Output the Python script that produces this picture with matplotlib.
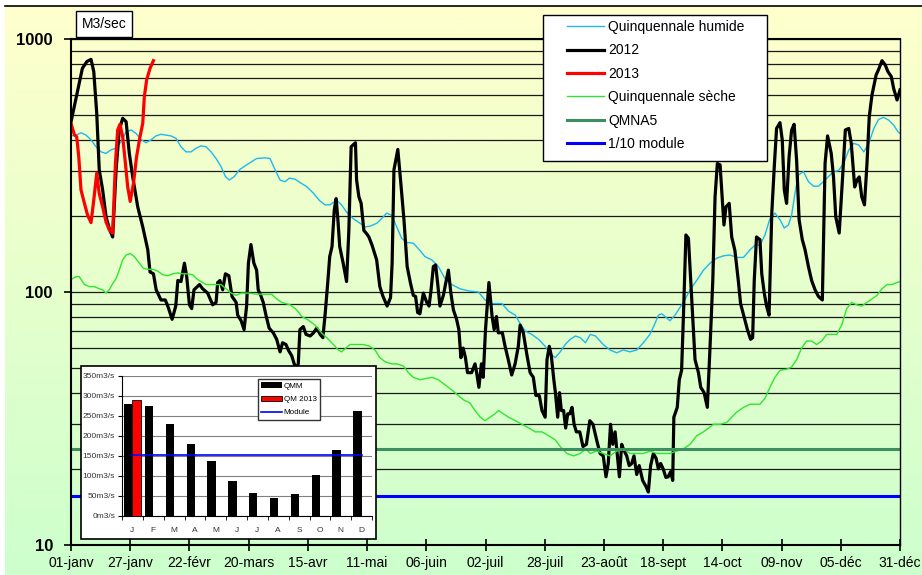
import numpy as np
import matplotlib
matplotlib.use("Agg")
import matplotlib.pyplot as plt
from matplotlib.patches import Rectangle
from matplotlib.lines import Line2D
from matplotlib.colors import LinearSegmentedColormap
from matplotlib.ticker import LogLocator, NullFormatter

plt.rcParams['font.family'] = ['Liberation Sans', 'DejaVu Sans']

# x axis : day of year (0 = 1st january)
tick_days = list(range(0, 365, 26))
tick_labels = ['01-janv', '27-janv', '22-févr', '20-mars', '15-avr', '11-mai', '06-juin',
               '02-juil', '28-juil', '23-août', '18-sept', '14-oct', '09-nov', '05-déc', '31-déc']

# daily flows 2012 (m3/s), read at the turning points
days_2012 = [0, 3, 5, 7, 8.8, 10, 11.3, 12.4, 13.9, 15.4, 17, 18.3, 19.8, 21.2, 22.7, 24.2,
             25.6, 27.1, 29.3, 31.5, 33.7, 34.7, 36.2, 37.4, 39.5, 41.4, 42.5, 44.4, 46, 46.9,
             48.3, 49.8, 50.8, 52, 53, 54, 56.4, 57.8, 60, 62.2, 63.7, 64.4, 65.4, 66.6, 67.8,
             69.3, 70.7, 72.5, 73.2, 74.7, 76, 77.1, 77.9, 79, 80.3, 81.5, 82.2, 83.3, 84.4,
             85.6, 87, 88.8, 90.3, 91.8, 92.9, 94.4, 95.4, 96.9, 98, 99, 99.8, 100.5, 102,
             103.2, 105, 106.5, 107.9, 109.4, 110.6, 111.6, 112.7, 113.6, 114.6, 115.6, 116.4,
             117.1, 118, 119.5, 121, 122, 123, 124.9, 125.4, 126.4, 127.4, 128.6, 129.8, 130.8,
             132.2, 134.2, 135.6, 137, 138.8, 140.3, 141, 141.8, 143.5, 144.7, 146.2, 147.6,
             149.1, 150.3, 151.3, 152.2, 153.2, 154.7, 156.2, 157.2, 158, 159.1, 160.1, 161,
             162, 163.5, 164.5, 165.7, 166.8, 167.9, 169.3, 170.3, 171.2, 172.2, 173.2, 174.1,
             175.9, 177.4, 178.1, 179.1, 180.2, 181, 182, 183.5, 184.9, 185.8, 186.8, 187.6,
             189.4, 190.6, 192, 193.5, 195, 196.4, 197.2, 198.6, 200.1, 201.6, 203, 204.1,
             205.6, 206.8, 208.2, 209, 210, 210.9, 212, 212.7, 213.7, 214.5, 215.3, 216.3,
             217.2, 218.1, 219, 220, 220.9, 221.9, 223.4, 224.8, 226.3, 227.8, 229.2, 230.8,
             232.3, 233.7, 234.9, 235.9, 236.9, 237.9, 238.9, 239.9, 240.8, 241.8, 242.5, 244,
             245.1, 246.2, 247.2, 248.4, 249.5, 251, 252.5, 253.5, 254.5, 255.7, 256.9, 257.9,
             258.9, 260, 261.2, 262.2, 263.3, 264.2, 264.7, 266.2, 267.1, 268.1, 268.9, 270,
             271.1, 272.5, 274, 275.5, 276.5, 278, 279.4, 280.6, 281.8, 282.8, 283.8, 285,
             285.7, 286.7, 287.6, 289, 290.1, 291.5, 293, 294, 295.5, 297, 298.4, 299.3, 300,
             301, 302.5, 303.3, 304.4, 305.4, 306.5, 307.7, 308.8, 309.8, 311.3, 312.3, 313.2,
             314.2, 315.3, 316.4, 317.5, 318.6, 319.7, 321.1, 322.3, 323.8, 325.2, 326.7, 328.2,
             329.9, 331.1, 332.2, 333.8, 334.8, 335.8, 337.3, 338.8, 340, 341.5, 342.6, 344.1,
             345.1, 346.1, 347.2, 348.4, 349.5, 350.5, 351.7, 353.5, 354.6, 356.1, 357.5, 358.7,
             360.2, 361.2, 362.7, 364]
flow_2012 = [470, 630, 766, 815, 831, 743, 508, 304, 253, 198, 176, 165, 304, 437, 486, 471,
             353, 285, 217, 181, 147, 120, 118, 102, 93, 93, 88, 78, 88, 111,
             110, 130, 115, 89, 86, 102, 107, 103, 99, 89, 91, 109, 111, 102, 118,
             116, 96, 91, 81, 77, 71, 88, 130, 154, 130, 122, 102, 97, 91,
             81, 72, 69, 65, 58, 63, 62, 59, 56, 52, 50, 52, 71, 73,
             68, 67, 69, 72, 68, 66, 82, 108, 138, 151, 211, 234,
             198, 151, 130, 110, 175, 375, 389, 277, 238, 224, 175, 170, 165,
             153, 134, 105, 96, 88, 95, 130, 304, 366, 277, 193, 126,
             108, 97, 96, 83, 82, 99, 91, 88, 100, 126, 128, 108,
             88, 97, 108, 122, 99, 85, 78, 71, 55, 60, 55, 48,
             48, 52, 48, 42, 52, 46, 71, 109, 80, 71, 80, 69,
             69, 61, 54, 47, 52, 61, 74, 69, 57, 48, 46, 39,
             39, 34, 32, 54, 61, 56, 45, 40, 32, 40, 34, 34,
             29, 33, 33, 35, 30, 28, 28, 24.5, 25, 31, 30, 26,
             23, 22.5, 18.6, 21, 30, 25, 28, 22.5, 18.6, 25, 24, 22.5,
             20.6, 21, 22.5, 19, 20.6, 18, 17, 16.2, 20.6, 23, 22, 20,
             21, 20, 18.5, 18.6, 19.5, 18, 32, 35, 45, 49, 80, 168,
             163, 96, 54, 48, 42, 40, 35, 61, 111, 238, 322, 318,
             253, 184, 217, 224, 165, 146, 111, 90, 80, 71, 65, 66, 111,
             165, 161, 118, 99, 88, 81, 205, 313, 443, 467, 399, 253,
             224, 342, 436, 460, 332, 193, 161, 147, 126, 111, 102, 96,
             93, 322, 414, 353, 285, 198, 171, 285, 437, 443, 387, 260,
             277, 285, 238, 221, 322, 493, 601, 720, 758, 821, 790, 743,
             710, 638, 574, 629]

# daily flows 2013
days_2013 = [0, 1.5, 2.5, 3.4, 4.4, 5.9, 7.3, 8.8, 10, 11.3, 12.4, 13.9, 15.4, 16.8, 18.3,
             19.5, 20.5, 21.5, 22.7, 23.9, 24.9, 26, 27.4, 28.8, 30.3, 31.5, 32.2, 33.2,
             34.7, 36.2]
flow_2013 = [464, 418, 411, 343, 253, 224, 201, 188, 231, 295, 245, 217, 189, 176, 171,
             322, 437, 460, 411, 322, 260, 228, 268, 343, 411, 464, 591, 688, 766, 821]

# quinquennale humide
days_humide = [0, 2.2, 4.4, 6.6, 8.8, 11, 13.2, 15.4, 17.6, 19.8, 22, 24.2, 26.4, 28.6, 30.7,
               32.9, 35.1, 37.3, 39.5, 41.7, 43.9, 46.1, 48.3, 50.5, 52.7, 54.9, 57.1, 59.3,
               61.5, 63.7, 65.9, 67.8, 69.5, 71.7, 73.9, 77.1, 81.5, 85.2, 87.4, 89.6, 91.8,
               94, 95.9, 98.4, 100.5, 103.5, 106.4, 109.3, 111.5, 113.7, 116.6, 118.8, 121,
               123.9, 126.9, 129.1, 131.3, 134.3, 136.4, 138.6, 140.8, 143, 145.2, 147.4,
               150.3, 153.2, 155.4, 158.4, 161.3, 164.2, 167.2, 170.8, 174.5, 178.9, 181.8,
               184.8, 189.2, 192.1, 195.1, 197.2, 199.5, 202.3, 205.3, 208.2, 210.4, 212.6,
               214.8, 217, 219.2, 221.5, 223.6, 225.9, 228, 230.3, 233.7, 236.7, 239.6, 242.5,
               245.4, 248.4, 251.3, 254.2, 256.4, 257.9, 259.4, 261.5, 263, 265.2, 266.7,
               268.9, 271.8, 274.7, 277.7, 280.6, 283.5, 286.5, 289.4, 292.3, 295.3, 298.2,
               300.3, 302.5, 304.7, 306.9, 309.1, 311.3, 313.2, 315, 316.4, 317.9, 319.4,
               321.6, 323.8, 326, 328.2, 330.4, 332.6, 334.8, 337, 339.2, 341.5, 343.7, 345.9,
               348.1, 350.3, 352.5, 354.6, 356.8, 359, 361.2, 363.1, 364]
flow_humide = [414, 417, 426, 417, 399, 375, 358, 353, 365, 370, 393, 430, 437, 423, 401,
               389, 399, 414, 420, 417, 414, 405, 375, 358, 358, 370, 378, 375,
               358, 337, 313, 286, 277, 286, 304, 318, 337, 339, 337, 304, 277,
               273, 282, 279, 271, 261, 246, 229, 221, 221, 231, 221, 207,
               195, 187, 181, 182, 187, 195, 205, 201, 181, 163, 157,
               156, 146, 138, 134, 126, 113, 107, 103, 101, 100, 93,
               90, 90, 84, 81, 75, 70, 68, 65, 61, 57, 55,
               58, 62, 65, 67, 66, 63, 68, 67, 62, 59, 57.5, 59,
               58, 59, 63, 68, 75, 81, 82, 79, 77, 81, 85,
               91, 102, 111, 122, 130, 136, 139, 140, 137, 137, 147,
               153, 153, 168, 195, 205, 193, 179, 184, 201, 246, 290,
               299, 273, 262, 262, 273, 286, 299, 302, 322, 364, 387, 381,
               358, 387, 443, 481, 490, 478, 457, 430, 424]

# quinquennale seche
days_seche = [0, 2.2, 3.6, 5.9, 8.1, 10.3, 12.4, 13.9, 15.4, 16.8, 18.3, 19.8, 21.2, 22.7,
              24.2, 26, 27.8, 30, 31.8, 33.7, 35.9, 38, 40.3, 42.5, 44.7, 46.9, 49, 51.2,
              53.4, 55.6, 57.8, 59.3, 61.5, 63.7, 65.9, 68.1, 70.3, 72.5, 74.7, 77.9, 81.5,
              85.2, 88.1, 90.3, 92.5, 96.2, 99.1, 101.3, 104.2, 107.1, 110, 112.3, 115.2,
              117.4, 118.8, 120.7, 122.5, 125.4, 128.3, 131.2, 133.5, 135.6, 137.9, 140.8,
              143, 146, 148.1, 150.3, 153.2, 158.4, 161.3, 164.2, 167.2, 170.1, 172.3,
              175.2, 177.4, 179.7, 181.8, 184, 186.2, 187.7, 189.9, 192.1, 195.1, 198, 201,
              203.9, 206.8, 209.8, 212.7, 214.8, 217.7, 220.7, 223.6, 225.9, 228, 230.8,
              233.7, 236.7, 239.6, 242.5, 245.4, 248.4, 251.3, 254.2, 257.2, 260.1, 263,
              265.9, 268.9, 271.8, 274.7, 277.7, 279.9, 282.1, 285, 287.9, 290.1, 292.3,
              295.3, 298.2, 302.5, 304.7, 306.9, 309.1, 311.3, 314.2, 316.4, 318.6, 320.8,
              323, 325.2, 327.4, 329.6, 331.8, 334, 336.2, 338.4, 340.6, 342.8, 345, 347.2,
              349.5, 351.7, 353.9, 356.1, 358.3, 360.5, 362.7, 364]
flow_seche = [112, 115, 115, 107, 105, 105, 103, 102, 99, 102, 108, 113, 122, 134,
              140, 142, 138, 130, 124, 123, 123, 121, 117, 116, 118, 119, 118, 118,
              117, 112, 109, 107, 107, 107, 107, 103, 99, 97, 99, 99, 98,
              98, 98, 94, 91, 89, 85, 80, 77.5, 74, 69, 66, 62,
              59, 58, 60, 62, 62, 62, 61, 59, 55, 53, 52,
              52, 51, 48, 46, 45, 46, 45, 43, 41, 39, 37.5,
              36.4, 34, 32, 31, 32, 33, 34, 33, 32, 31, 30, 29,
              28, 28, 27, 26, 24.5, 23, 22.5, 23, 24, 23, 23.5,
              23, 22.5, 23.5, 24, 23, 23, 23, 23.5, 23, 23, 23,
              23.5, 24, 25, 27, 28, 29, 30, 30, 30.5, 32, 33.5,
              35, 36, 36, 38, 42, 46, 49, 49.5, 50.5, 54, 60,
              64, 64, 62, 64, 68, 68, 68, 74, 86, 91, 89, 88,
              91, 94, 97, 103, 107, 107, 109, 110]

qmna5 = 24.0
dixieme_module = 15.6

# inset : monthly mean flows
months = ['J', 'F', 'M', 'A', 'M', 'J', 'J', 'A', 'S', 'O', 'N', 'D']
qmm = [279, 274, 231, 181, 137, 87, 57, 46, 55, 102, 165, 262]
qm_2013 = [291]
module = 153

W, H = 922, 575
fig = plt.figure(figsize=(W / 100, H / 100), dpi=100)

# background gradient
bg = fig.add_axes([5 / W, 0, 1 - 5 / W, 569 / H], zorder=-10)
cmap = LinearSegmentedColormap.from_list('fond', ['#FFFFCC', '#CCFFCC'])
bg.imshow(np.linspace(0, 1, 256).reshape(-1, 1), aspect='auto', cmap=cmap,
          extent=[0, 1, 0, 1], origin='upper')
bg.axis('off')
fig.add_artist(Line2D([5 / W, 1], [1 - 6 / H] * 2, color='black', lw=1.2))

# main chart
ax = fig.add_axes([71 / W, 30 / H, 829 / W, 506 / H])
ax.set_facecolor('none')

l_hum, = ax.plot(days_humide, flow_humide, color='#1EB8EE', lw=1.0)
l_12, = ax.plot(days_2012, flow_2012, color='black', lw=2.3)
l_13, = ax.plot(days_2013, flow_2013, color='#FF0000', lw=2.3)
l_sec, = ax.plot(days_seche, flow_seche, color='#2EE62E', lw=1.0)
l_qmna, = ax.plot([0, 364], [qmna5, qmna5], color='#3C9060', lw=2.2)
l_mod, = ax.plot([0, 364], [dixieme_module, dixieme_module], color='#0000FF', lw=2.2)

ax.set_yscale('log')
ax.set_ylim(10, 1000)
ax.set_xlim(0, 364)
ax.set_yticks([10, 100, 1000])
ax.set_yticklabels(['10', '100', '1000'], fontsize=12, fontweight='bold')
ax.yaxis.set_minor_locator(LogLocator(base=10, subs=range(2, 10)))
ax.yaxis.set_minor_formatter(NullFormatter())
ax.tick_params(axis='y', which='minor', length=0)
ax.tick_params(axis='y', which='major', direction='out', length=5, width=1.2, pad=8)
ax.grid(True, which='both', axis='y', color='#1a1a1a', lw=0.9)
ax.set_xticks(tick_days)
ax.set_xticklabels(tick_labels, fontsize=10)
ax.tick_params(axis='x', direction='inout', length=8, width=1.2, pad=4)
for side in ['left', 'bottom', 'top']:
    ax.spines[side].set_linewidth(1.5)
ax.spines['right'].set_linewidth(1)

fig.text(104 / W, 1 - 24 / H, 'M3/sec', ha='center', va='center', fontsize=10,
         bbox=dict(boxstyle='square,pad=0.4', fc='white', ec='black', lw=1))

# legend
fig.add_artist(Rectangle((543 / W, 1 - 161 / H), 224 / W, 146 / H, transform=fig.transFigure,
                         fc='white', ec='black', lw=1, zorder=4))
fig.legend([l_hum, l_12, l_13, l_sec, l_qmna, l_mod],
           ['Quinquennale humide', '2012', '2013', 'Quinquennale sèche', 'QMNA5', '1/10 module'],
           loc='upper left', bbox_to_anchor=(567 / W, 1 - 20 / H), frameon=False,
           borderpad=0, borderaxespad=0, handlelength=2.65, handletextpad=0.3,
           labelspacing=0.68, fontsize=10)

# inset with monthly means
fig.add_artist(Rectangle((81 / W, 1 - 539 / H), 295 / W, 173 / H, transform=fig.transFigure,
                         fc='white', ec='black', lw=1.2, zorder=1))
axi = fig.add_axes([122 / W, 1 - 516 / H, 250 / W, 140 / H], zorder=2)
x = np.arange(len(months))
b_qmm = axi.bar(x - 0.2, qmm, 0.4, color='black', zorder=3)
b_2013 = axi.bar(x[:len(qm_2013)] + 0.2, qm_2013, 0.4, color='#FF0000', edgecolor='black',
                 lw=0.6, zorder=3)
l_module, = axi.plot(x, [module] * len(months), color='#0000FF', lw=1.2, zorder=4)
axi.set_xlim(-0.5, 11.5)
axi.set_ylim(0, 350)
axi.set_yticks(range(0, 351, 50))
axi.set_yticklabels(['%dm3/s' % v for v in range(0, 351, 50)], fontsize=6, color='#333333')
axi.set_xticks(x)
axi.set_xticklabels(months, fontsize=6, color='#333333')
axi.set_xticks(np.arange(-0.5, 12, 1), minor=True)
axi.tick_params(axis='x', which='major', length=0, pad=8)
axi.tick_params(axis='x', which='minor', length=3, direction='out')
axi.tick_params(axis='y', length=3, direction='out', pad=2)
axi.grid(True, axis='y', color='#808080', lw=0.8)
axi.set_axisbelow(True)
axi.spines['top'].set_visible(False)
axi.spines['right'].set_visible(False)
leg = axi.legend([b_qmm, b_2013, l_module], ['QMM', 'QM 2013', 'Module'],
                 loc='upper left', bbox_to_anchor=(258 / W, 1 - 379 / H),
                 bbox_transform=fig.transFigure, fontsize=5.8, handlelength=2.6,
                 handletextpad=0.2, labelspacing=0.7, borderpad=0.4, borderaxespad=0,
                 fancybox=False, edgecolor='#333333', framealpha=1)
leg.get_frame().set_linewidth(1)

fig.savefig('out.png', dpi=100)
